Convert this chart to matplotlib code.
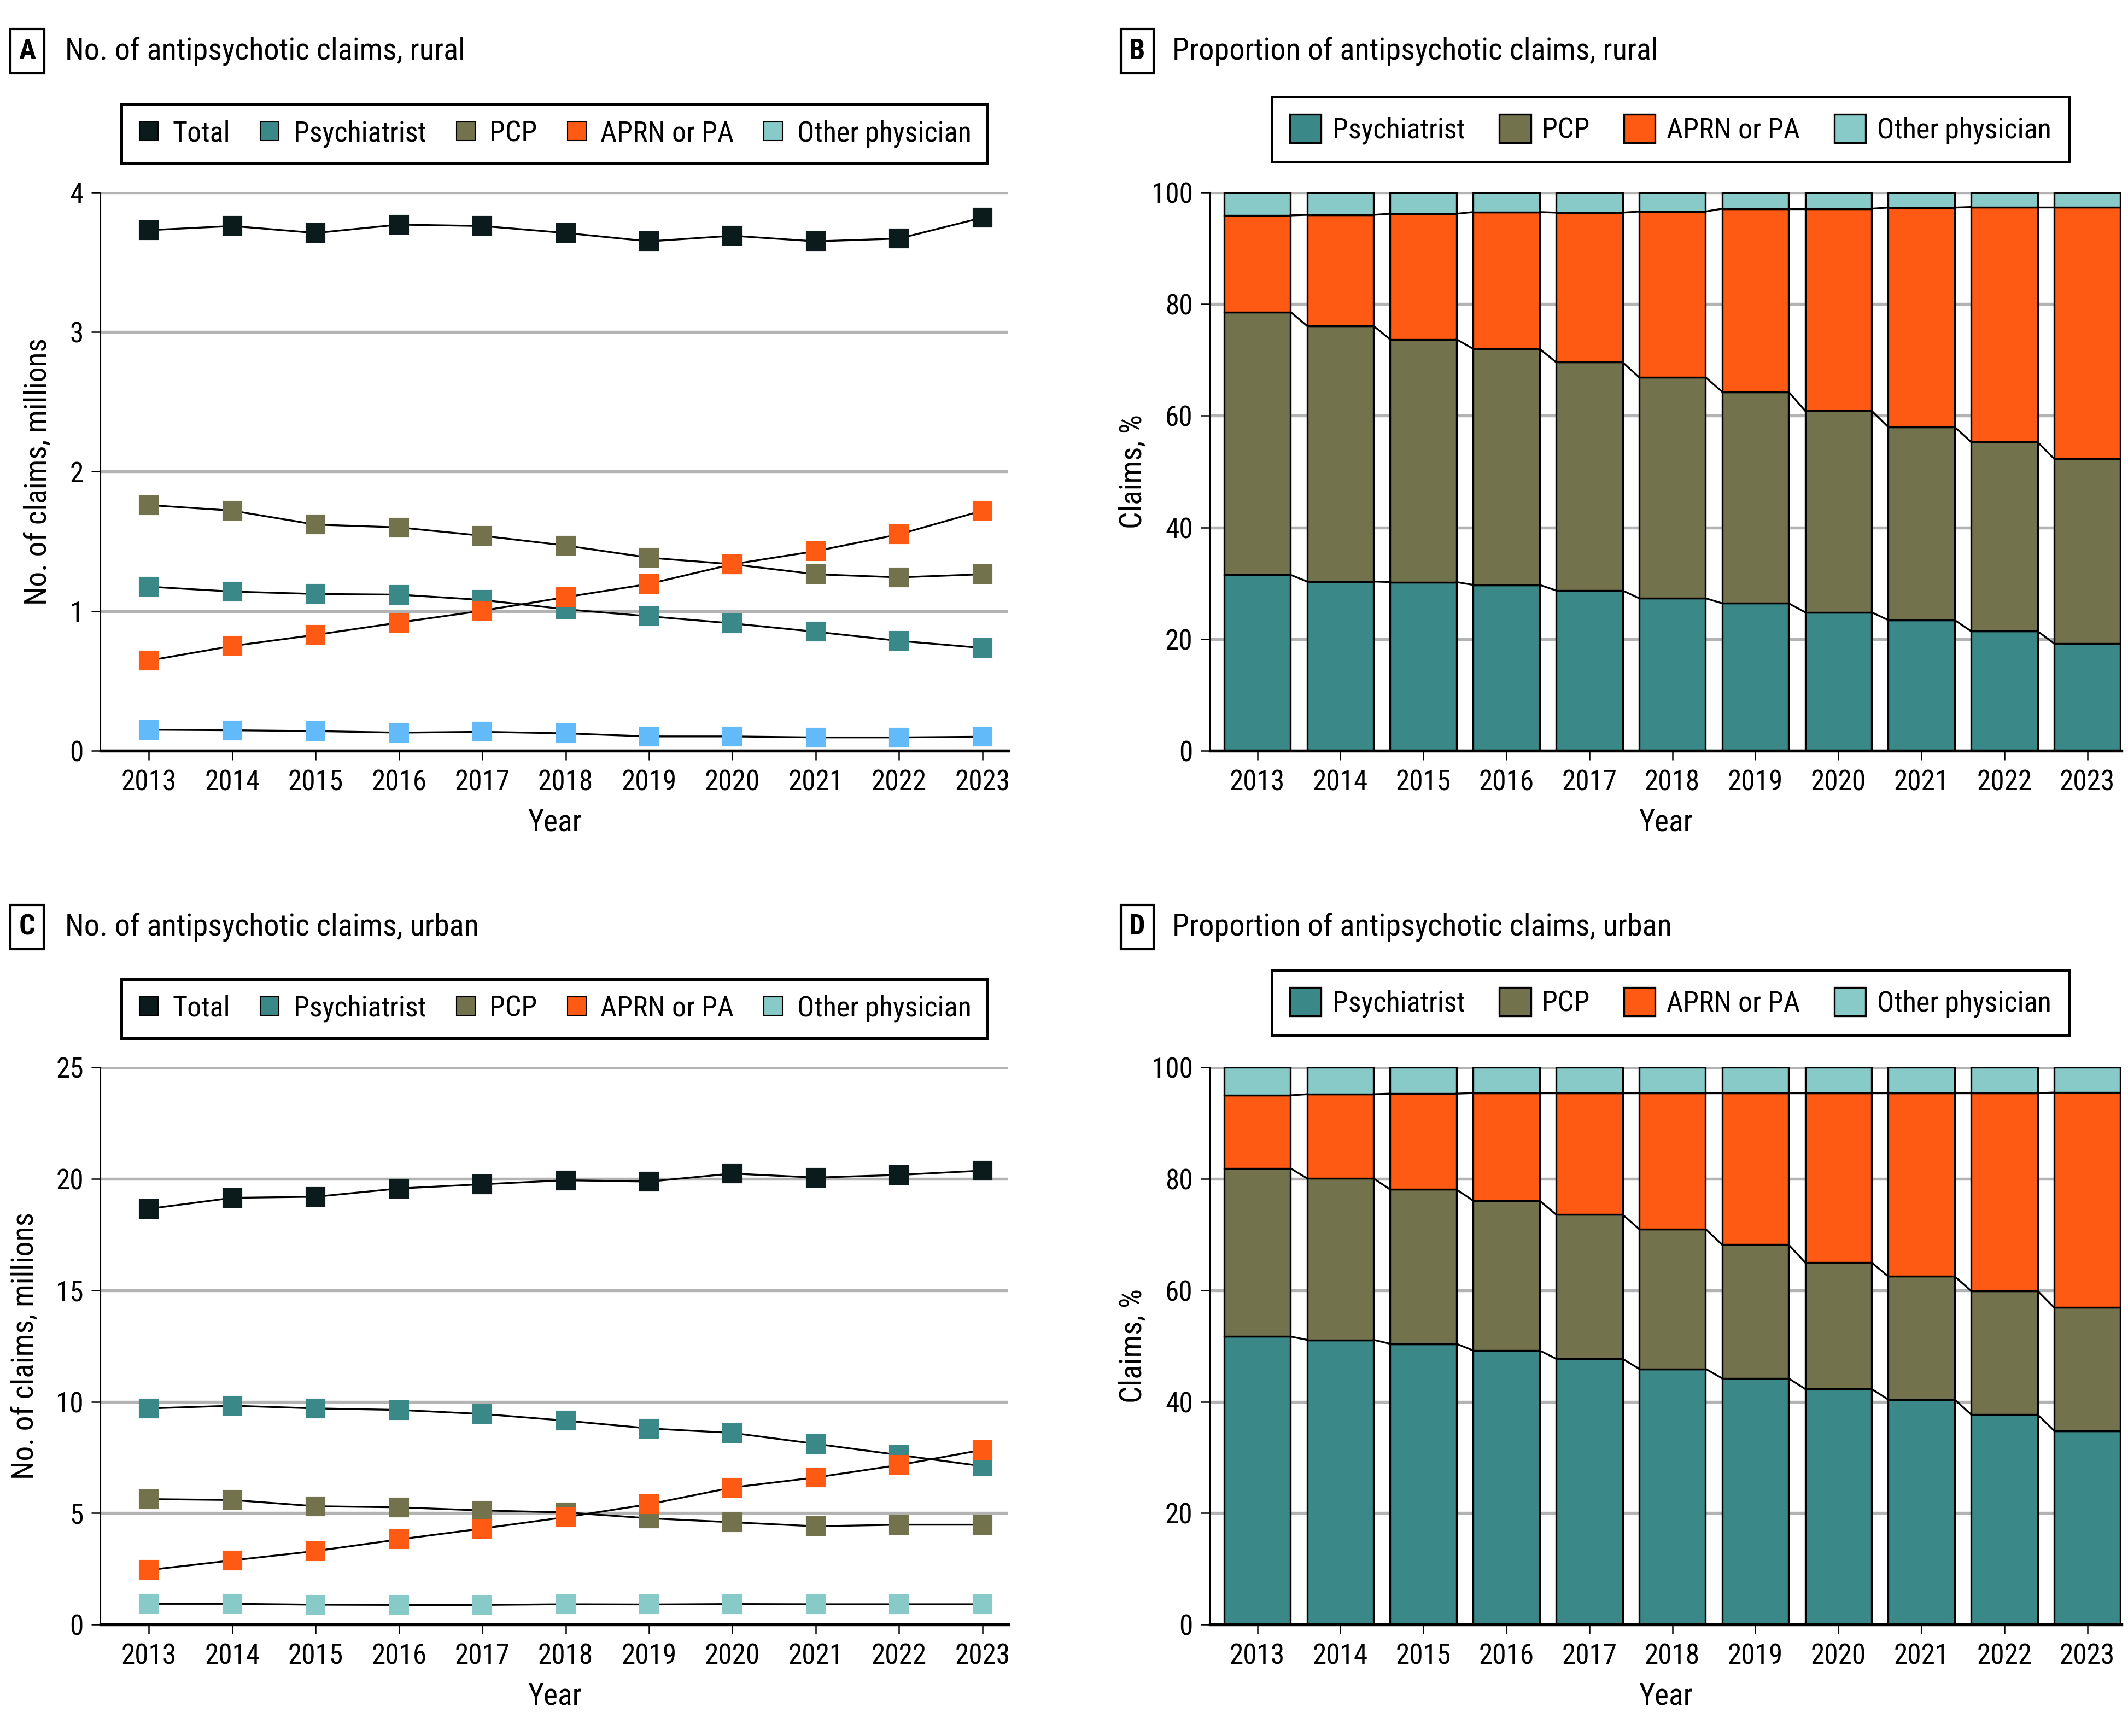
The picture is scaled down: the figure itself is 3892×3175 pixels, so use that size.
import numpy as np
import matplotlib
matplotlib.use('Agg')
import matplotlib.pyplot as plt
from matplotlib import font_manager
from matplotlib.lines import Line2D
from matplotlib.patches import Patch

# pick a narrow sans if one is installed
names = {f.name for f in font_manager.fontManager.ttflist}
cands = ['Roboto Condensed', 'Liberation Sans Narrow', 'Noto Sans Condensed', 'Open Sans Condensed',
         'DejaVu Sans Condensed']
font = next((c for c in cands if c in names), None)
if font is None:
    if any(f.name == 'DejaVu Sans' and f.stretch == 'condensed' for f in font_manager.fontManager.ttflist):
        font = 'DejaVu Sans'
        plt.rcParams['font.stretch'] = 'condensed'
    else:
        font = 'Liberation Sans'
plt.rcParams['font.family'] = [font, 'DejaVu Sans']
plt.rcParams['font.size'] = 12.5

years = ['2013', '2014', '2015', '2016', '2017', '2018', '2019', '2020', '2021', '2022', '2023']

# counts, millions
rural_total = [3.73, 3.76, 3.71, 3.77, 3.76, 3.71, 3.65, 3.69, 3.65, 3.67, 3.82]
rural_psych = [1.175, 1.14, 1.123, 1.118, 1.08, 1.013, 0.963, 0.912, 0.852, 0.787, 0.736]
rural_pcp = [1.76, 1.72, 1.62, 1.60, 1.54, 1.47, 1.383, 1.336, 1.264, 1.242, 1.264]
rural_aprn = [0.646, 0.75, 0.83, 0.918, 1.003, 1.10, 1.195, 1.336, 1.43, 1.55, 1.72]
rural_other = [0.150, 0.146, 0.140, 0.129, 0.135, 0.124, 0.102, 0.102, 0.095, 0.095, 0.100]

urban_total = [18.66, 19.15, 19.2, 19.57, 19.76, 19.94, 19.88, 20.24, 20.06, 20.18, 20.37]
urban_psych = [9.70, 9.82, 9.70, 9.63, 9.45, 9.15, 8.80, 8.60, 8.11, 7.61, 7.11]
urban_pcp = [5.63, 5.59, 5.31, 5.26, 5.12, 5.03, 4.77, 4.59, 4.41, 4.48, 4.48]
urban_aprn = [2.45, 2.88, 3.30, 3.82, 4.31, 4.82, 5.40, 6.15, 6.60, 7.16, 7.84]
urban_other = [0.93, 0.93, 0.89, 0.88, 0.88, 0.91, 0.90, 0.92, 0.91, 0.91, 0.91]

# cumulative tops of stacked bars, %
rural_psych_pct = [31.5, 30.3, 30.2, 29.7, 28.7, 27.3, 26.4, 24.8, 23.4, 21.4, 19.2]
rural_pcp_cum = [78.6, 76.1, 73.7, 72.0, 69.6, 66.9, 64.3, 60.9, 58.0, 55.3, 52.3]
rural_aprn_cum = [95.9, 96.0, 96.2, 96.5, 96.4, 96.6, 97.1, 97.1, 97.3, 97.4, 97.4]

urban_psych_pct = [51.7, 51.1, 50.4, 49.2, 47.7, 45.9, 44.2, 42.3, 40.4, 37.7, 34.8]
urban_pcp_cum = [81.9, 80.1, 78.1, 76.1, 73.6, 71.0, 68.2, 65.0, 62.5, 59.9, 56.9]
urban_aprn_cum = [95.0, 95.2, 95.3, 95.4, 95.4, 95.4, 95.4, 95.4, 95.4, 95.4, 95.5]

TOTAL_C = '#0b1a1a'
PSY_C = '#3a8888'
PCP_C = '#72724c'
APRN_C = '#ff5a14'
OTHER_C = '#88cac8'
OTHER_A = '#62baf9'
GRID_C = '#b3b3b3'

labels = ['Total', 'Psychiatrist', 'PCP', 'APRN or PA', 'Other physician']
x = np.arange(len(years))

fig = plt.figure(figsize=(3892 / 300, 3175 / 300), dpi=300)
axA = fig.add_axes([0.0473, 0.5676, 0.4265, 0.3215])
axB = fig.add_axes([0.5686, 0.5676, 0.4283, 0.3215])
axC = fig.add_axes([0.0473, 0.0642, 0.4265, 0.3209])
axD = fig.add_axes([0.5686, 0.0642, 0.4283, 0.3209])


def style_axes(ax):
    ax.set_axisbelow(True)
    ax.yaxis.grid(True, color=GRID_C, lw=1.3)
    ax.spines['top'].set_visible(False)
    ax.spines['right'].set_visible(False)
    ax.spines['left'].set_linewidth(0.5)
    ax.spines['bottom'].set_linewidth(1.3)
    ax.tick_params(axis='both', direction='out', length=4, width=0.6, labelsize=12.3)
    ax.tick_params(axis='x', pad=4)
    ax.set_xticks(x)
    ax.set_xticklabels(years)


def line_panel(ax, series, colors, ymax, step, ylab_x):
    for vals, c in zip(series, colors):
        ax.plot(x, vals, color='black', lw=0.8, marker='s', markersize=7.7,
                markerfacecolor=c, markeredgecolor=c, zorder=3)
    style_axes(ax)
    ax.set_xlim(-0.58, 10.31)
    ax.set_ylim(0, ymax)
    ax.set_yticks(np.arange(0, ymax + step / 2, step))
    ax.set_ylabel('No. of claims, millions', va='center', fontsize=13.3)
    ax.yaxis.set_label_coords(ylab_x, 0.5)
    ax.set_xlabel('Year', va='center', fontsize=13.3)
    ax.xaxis.set_label_coords(0.5, -0.128)


def bar_panel(ax, psy, pcp, aprn):
    w = 0.8
    bottoms = [np.zeros(len(x)), np.array(psy), np.array(pcp), np.array(aprn)]
    tops = [np.array(psy), np.array(pcp), np.array(aprn), np.full(len(x), 100.0)]
    cols = [PSY_C, PCP_C, APRN_C, OTHER_C]
    for b, t, c in zip(bottoms, tops, cols):
        ax.bar(x, t - b, bottom=b, width=w, color=c, edgecolor='black', lw=0.8, zorder=2)
    for t in tops[:3]:
        for i in range(len(x) - 1):
            ax.plot([x[i] + w / 2, x[i + 1] - w / 2], [t[i], t[i + 1]], color='black', lw=0.8, zorder=2)
    style_axes(ax)
    ax.set_xlim(-0.57, 10.41)
    ax.set_ylim(0, 100)
    ax.set_yticks(np.arange(0, 101, 20))
    ax.set_ylabel('Claims, %', va='center', fontsize=13.3)
    ax.yaxis.set_label_coords(-0.0846, 0.5)
    ax.set_xlabel('Year', va='center', fontsize=13.3)
    ax.xaxis.set_label_coords(0.5, -0.128)


line_panel(axA, [rural_total, rural_psych, rural_pcp, rural_aprn, rural_other],
           [TOTAL_C, PSY_C, PCP_C, APRN_C, OTHER_A], 4, 1, -0.0687)
line_panel(axC, [urban_total, urban_psych, urban_pcp, urban_aprn, urban_other],
           [TOTAL_C, PSY_C, PCP_C, APRN_C, OTHER_C], 25, 5, -0.0837)
bar_panel(axB, rural_psych_pct, rural_pcp_cum, rural_aprn_cum)
bar_panel(axD, urban_psych_pct, urban_pcp_cum, urban_aprn_cum)

# legends
line_handles = [Line2D([], [], ls='none', marker='s', markersize=8, markerfacecolor=c,
                       markeredgecolor='black', markeredgewidth=0.5)
                for c in [TOTAL_C, PSY_C, PCP_C, APRN_C, OTHER_C]]
bar_handles = [Patch(facecolor=c, edgecolor='black', lw=0.8) for c in [PSY_C, PCP_C, APRN_C, OTHER_C]]


def add_legend(ax, handles, labs, cx, cy, bpad, **kw):
    leg = ax.legend(handles, labs, loc='center', bbox_to_anchor=(cx, cy), bbox_transform=fig.transFigure,
                    ncol=len(handles), frameon=True, fancybox=False, edgecolor='black', framealpha=1,
                    fontsize=12.5, borderpad=bpad, **kw)
    leg.get_frame().set_linewidth(1.2)


add_legend(axA, line_handles, labels, 0.2605, 0.923, 0.55,
           handletextpad=0.44, columnspacing=0.98, handlelength=0.8)
add_legend(axC, line_handles, labels, 0.2605, 0.419, 0.55,
           handletextpad=0.44, columnspacing=0.98, handlelength=0.8)
add_legend(axB, bar_handles, labels[1:], 0.785, 0.9255, 0.62,
           handletextpad=0.4, columnspacing=1.2, handlelength=1.1, handleheight=1.15)
add_legend(axD, bar_handles, labels[1:], 0.785, 0.4225, 0.62,
           handletextpad=0.4, columnspacing=1.2, handlelength=1.1, handleheight=1.15)

# panel titles
titles = [('A', 'No. of antipsychotic claims, rural', 0.0128, 0.0306, 0.9705),
          ('B', 'Proportion of antipsychotic claims, rural', 0.5344, 0.551, 0.9705),
          ('C', 'No. of antipsychotic claims, urban', 0.0128, 0.0306, 0.466),
          ('D', 'Proportion of antipsychotic claims, urban', 0.5344, 0.551, 0.466)]
for letter, txt, bx, tx, ty in titles:
    fig.text(bx, ty, letter, ha='center', va='center', fontsize=12.5, weight='bold',
             bbox=dict(boxstyle='square,pad=0.3', fc='white', ec='black', lw=1.0))
    fig.text(tx, ty, txt, ha='left', va='center', fontsize=13.5)

fig.savefig('out.png', dpi=300)
